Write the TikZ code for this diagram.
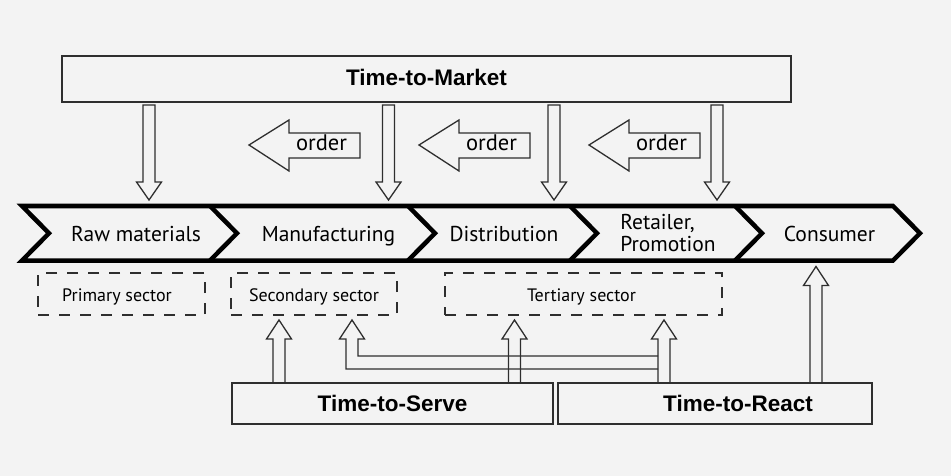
\documentclass[tikz,border=0pt]{standalone}
\usepackage{fontspec}
\setmainfont{PT Sans}
\newfontfamily\headfont{Liberation Sans}
\usetikzlibrary{calc,positioning}

\definecolor{paper}{HTML}{F3F3F3}
\definecolor{ink}{HTML}{2E2E2E}

% hollow block arrows between two points (shaft 12pt, head 25pt)
\newcommand{\hollowdown}[2]{%
  \draw[block] let \p1=(#1), \p2=(#2) in
    (\x1-6pt,\y1-3pt) -- (\x1+6pt,\y1-3pt) -- (\x1+6pt,\y2+24pt)
    -- (\x1+12.5pt,\y2+24pt) -- (\x1,\y2+6pt) -- (\x1-12.5pt,\y2+24pt)
    -- (\x1-6pt,\y2+24pt) -- cycle;}
\newcommand{\hollowup}[2]{%
  \draw[block] let \p1=(#1), \p2=(#2) in
    (\x1-6pt,\y1) -- (\x1-6pt,\y2-24pt) -- (\x1-12.5pt,\y2-24pt)
    -- (\x1,\y2-5pt) -- (\x1+12.5pt,\y2-24pt) -- (\x1+6pt,\y2-24pt)
    -- (\x1+6pt,\y1);}

\begin{document}
\begin{tikzpicture}[x=1pt,y=-1pt]
    % Define styles for boxes, labels and arrows
    \tikzstyle{timebox} = [rectangle, draw=ink, line width=1.4pt, outer sep=0pt, inner sep=0pt, font=\headfont\bfseries\fontsize{22.5}{26}\selectfont]
    \tikzstyle{sector} = [rectangle, draw=ink, dash pattern=on 11pt off 10pt, line width=1.3pt, outer sep=0pt, minimum height=42]
    \tikzstyle{sectortext} = [font=\fontsize{18}{20}\selectfont, inner sep=0pt, anchor=base]
    \tikzstyle{stage} = [font=\fontsize{21.5}{22}\selectfont, align=left, inner sep=0pt]
    \tikzstyle{ordertext} = [font=\fontsize{22.5}{24}\selectfont, inner sep=0pt, anchor=base]
    \tikzstyle{block} = [draw=ink, line width=1.3pt, line join=miter]
    \tikzstyle{chevron} = [draw=black, line width=4.5pt, line join=miter]

    % Background
    \fill[paper] (0,0) rectangle (951,476);
    \useasboundingbox (0,0) rectangle (951,476);

    % Time boxes
    \node (ttm) [timebox, minimum width=729, minimum height=46, text depth=3pt] at (426.5,79) {Time-to-Market};
    \node (tts) [timebox, minimum width=321, minimum height=41] at (392.5,403.5) {Time-to-Serve};
    \node (ttr) [timebox, minimum width=314, minimum height=41, label={[timebox, draw=none, xshift=23pt]center:Time-to-React}] at (715,403.5) {};

    % Value chain band
    \coordinate (band-top) at (0,206);
    \coordinate (band-bot) at (0,260.5);
    \draw[chevron] (22,206) -- (893,206) -- (920,233.25) -- (893,260.5) -- (22,260.5) -- (49,233.25) -- cycle;
    \draw[chevron] (210,206) -- (237,233.25) -- (210,260.5);
    \draw[chevron] (408,206) -- (435,233.25) -- (408,260.5);
    \draw[chevron] (570,206) -- (597,233.25) -- (570,260.5);
    \draw[chevron] (735,206) -- (762,233.25) -- (735,260.5);
    \node (raw) [stage, anchor=base] at (136,241) {Raw materials};
    \node (manu) [stage, anchor=base] at (328.5,241) {Manufacturing};
    \node (dist) [stage, anchor=base] at (504,241) {Distribution};
    \node (retail) [stage] at (668,233) {Retailer,\\Promotion};
    \node (cons) [stage, anchor=base] at (829.5,241) {Consumer};

    % Sectors
    \node (primary) [sector, minimum width=167] at (121.5,294) {};
    \node (secondary) [sector, minimum width=166] at (314,294) {};
    \node (tertiary) [sector, minimum width=277] at (583.5,294) {};
    \node (primary-label) [sectortext] at (117,301) {Primary sector};
    \node (secondary-label) [sectortext] at (314,301) {Secondary sector};
    \node (tertiary-label) [sectortext] at (581.5,301) {Tertiary sector};

    % Order arrows
    \node (order1) [ordertext] at (321.5,151) {order};
    \node (order2) [ordertext] at (491.5,151) {order};
    \node (order3) [ordertext] at (661.5,151) {order};
    \draw[block] (249,145) -- (289,120) -- (289,133) -- (360,133) -- (360,158) -- (289,158) -- (289,171) -- cycle;
    \draw[block] (419,145) -- (459,120) -- (459,133) -- (530,133) -- (530,158) -- (459,158) -- (459,171) -- cycle;
    \draw[block] (589,145) -- (629,120) -- (629,133) -- (700,133) -- (700,158) -- (629,158) -- (629,171) -- cycle;

    % Arrows from Time-to-Market
    \coordinate (in-raw) at (149,0);
    \coordinate (in-manu) at (388.5,0);
    \coordinate (in-dist) at (554,0);
    \coordinate (in-retail) at (717,0);
    \hollowdown{ttm.south -| in-raw}{band-top -| in-raw}
    \hollowdown{ttm.south -| in-manu}{band-top -| in-manu}
    \hollowdown{ttm.south -| in-dist}{band-top -| in-dist}
    \hollowdown{ttm.south -| in-retail}{band-top -| in-retail}

    % Arrows from Time-to-Serve and Time-to-React
    \coordinate (srv-a) at (279,0);
    \coordinate (srv-b) at (514.5,0);
    \coordinate (rct-a) at (664,0);
    \coordinate (rct-b) at (816,0);
    \coordinate (rct-c) at (352,0);
    \coordinate (branch) at (664,362.5);
    \hollowup{tts.north -| srv-a}{secondary.south -| srv-a}
    \hollowup{tts.north -| srv-b}{tertiary.south -| srv-b}
    \hollowup{ttr.north -| rct-a}{tertiary.south -| rct-a}
    \draw[block] let \p1=(branch), \p2=(secondary.south -| rct-c) in
        (\x1-6pt,\y1-6.5pt) -- (\x2-6pt,\y1-6.5pt) -- (\x2-6pt,\y2-24pt)
        -- (\x2-12.5pt,\y2-24pt) -- (\x2,\y2-5pt) -- (\x2+12.5pt,\y2-24pt)
        -- (\x2+6pt,\y2-24pt) -- (\x2+6pt,\y1+6.5pt) -- (\x1-6pt,\y1+6.5pt);
    \draw[block] let \p1=(ttr.north -| rct-b), \p2=(band-bot -| rct-b) in
        (\x1-6pt,\y1) -- (\x1-6pt,\y2-25pt) -- (\x1-12.5pt,\y2-25pt)
        -- (\x1,\y2-6pt) -- (\x1+12.5pt,\y2-25pt) -- (\x1+6pt,\y2-25pt)
        -- (\x1+6pt,\y1);
\end{tikzpicture}
\end{document}
